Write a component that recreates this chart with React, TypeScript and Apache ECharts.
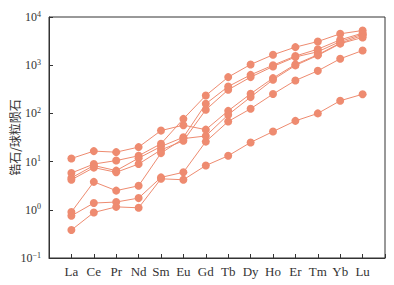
import React, { useEffect, useRef } from "react";
import * as echarts from "echarts";

const elements = ["La", "Ce", "Pr", "Nd", "Sm", "Eu", "Gd", "Tb", "Dy", "Ho", "Er", "Tm", "Yb", "Lu"];

const sampleA = [11.6, 16.5, 15.7, 20, 44, 57, 46, 113, 255, 540, 1040, 1650, 2870, 4140];
const sampleB = [5.8, 8.9, 10.5, 13.2, 23.5, 77, 235, 566, 1035, 1644, 2370, 3100, 4480, 5250];
const sampleC = [4.6, 8.3, 6.5, 11.8, 20.6, 32, 158, 361, 630, 1000, 1550, 2150, 3365, 4630];
const sampleD = [4.2, 7.5, 6.0, 8.9, 17.5, 27, 119, 309, 566, 940, 1480, 1900, 3100, 4400];
const sampleE = [0.9, 3.8, 2.5, 3.15, 15, 30, 34, 94, 218, 500, 990, 1600, 2800, 3760];
const sampleF = [0.75, 1.38, 1.45, 1.75, 4.7, 6.0, 26, 68, 125, 252, 482, 764, 1358, 2020];
const sampleG = [0.38, 0.88, 1.15, 1.1, 4.4, 4.2, 8.3, 13.2, 25, 42, 70, 100, 183, 250];

const samples = [sampleA, sampleB, sampleC, sampleD, sampleE, sampleF, sampleG];

const COLOR = "#EE8B70";
const FONT = "serif";

export default function App() {
  const ref = useRef<HTMLDivElement>(null);
  useEffect(() => {
    if (!ref.current) return;
    const chart = echarts.init(ref.current, null, { renderer: "svg" });
    chart.setOption({
      animation: false,
      textStyle: { fontFamily: FONT },
      grid: {
        left: 49,
        top: 17,
        right: 9,
        bottom: 27,
        containLabel: false,
        outerBoundsMode: "none",
        show: true,
        borderColor: "#333",
        borderWidth: 1,
        backgroundColor: "transparent",
      },
      xAxis: {
        type: "category",
        boundaryGap: false,
        data: ["", ...elements, ""],
        axisLine: { lineStyle: { color: "#333", width: 1 } },
        axisTick: { inside: true, length: 4, lineStyle: { color: "#333" } },
        axisLabel: { color: "#333", fontFamily: FONT, fontSize: 13, margin: 7, interval: 0 },
        splitLine: { show: false },
      },
      yAxis: {
        type: "log",
        logBase: 10,
        min: 0.1,
        max: 10000,
        name: "锆石/球粒陨石",
        nameLocation: "middle",
        nameGap: 29,
        nameMoveOverlap: false,
        nameTextStyle: { color: "#333", fontFamily: "Noto Sans CJK SC", fontSize: 12 },
        axisLine: { show: true, lineStyle: { color: "#333", width: 1 } },
        axisTick: { show: true, inside: true, length: 4, lineStyle: { color: "#333" } },
        splitLine: { show: false },
        axisLabel: {
          color: "#333",
          margin: 8,
          fontFamily: FONT,
          formatter: (v: number) => {
            const e = Math.round(Math.log10(v));
            return `{b|10}{s|${e < 0 ? "−" + -e : e}}`;
          },
          rich: {
            b: { fontFamily: FONT, fontSize: 12, color: "#333" },
            s: { fontFamily: FONT, fontSize: 8, color: "#333", verticalAlign: "top", padding: [0, 0, 6, 0] },
          },
        },
      },
      series: samples.map((s) => ({
        type: "line",
        data: s.map((v, i) => [elements[i], v]),
        symbol: "circle",
        symbolSize: 8,
        itemStyle: { color: COLOR },
        lineStyle: { color: COLOR, width: 1 },
        emphasis: { disabled: true },
      })),
    });
    return () => chart.dispose();
  }, []);
  return <div ref={ref} style={{ width: 394, height: 285, position: "absolute", left: 0, top: 0 }} />;
}
